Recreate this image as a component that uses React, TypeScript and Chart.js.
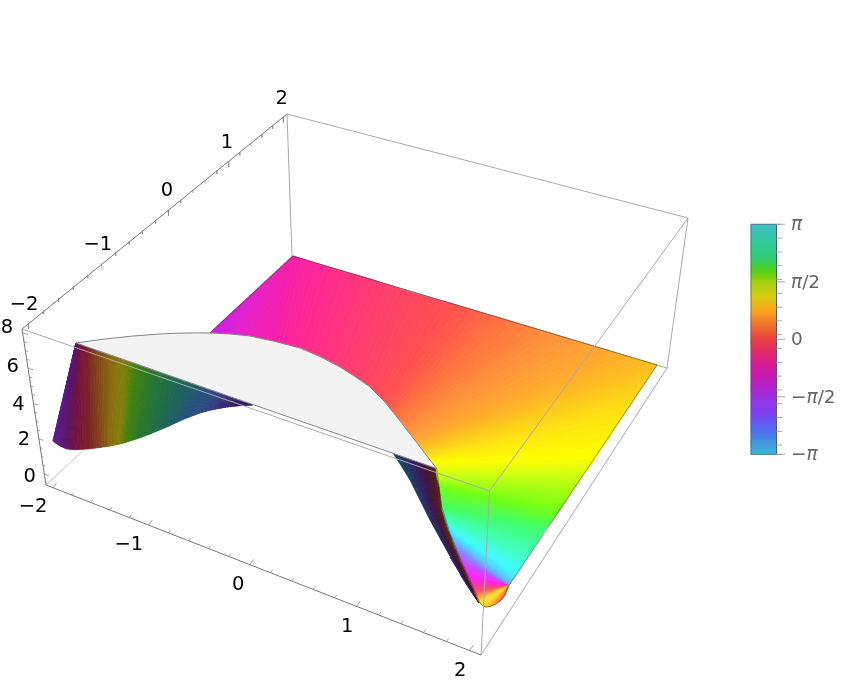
import React, { useEffect, useRef } from "react";
import { Chart, registerables } from "chart.js";

Chart.register(...registerables);

// Axis tick values and labels
const planeTicks = [-2,-1.8,-1.6,-1.4,-1.2,-1,-0.8,-0.6,-0.4,-0.2,0,0.2,0.4,0.6,0.8,1,1.2,1.4,1.6,1.8,2];
const planeMajor = [-2,-1,0,1,2];
const heightTicks = [0,0.5,1,1.5,2,2.5,3,3.5,4,4.5,5,5.5,6,6.5,7,7.5,8];
const heightMajor = [0,2,4,6,8];
const heightNudge = [2.5,1.5,1,-1,-5];

// Box corners
const boxA = [46,485], boxB = [481,655], boxG = [292,256], boxH = [667,368];
const boxC = [22,329], boxD = [489.5,491], boxE = [688,218], boxF = [287,114];

// Lit sheet: level lines (upper end, lower end, colour)
const sheetUX = [210,240,265,293,325,370,410,453,500,550,610,657,635,596,590,581,558,545,532,516.6,511,508.5,508.5,508.5,508.5,508.5,508.5,508.5,508.5,508.5,508.5,508.5,508.5];
const sheetUY = [333,305,282,256,266,279,292,304,318,333,351,365,398,457,466,478,513,530,551,574,582,586,586,586,586,586,586,586,586,586,586,586,586];
const sheetLX = [210,230,250,275,300,340,370,385,397,407,417,421,426,433,436,437,440,442.5,445,449,452,455,461,465,469,475,479.5,483,486,490,495,500,505];
const sheetLY = [333,334.5,336,342,348,367,387,404,417,430,443,448,455,463,468,476,488,510,518,530,537,546,561,569,578,592,602,606,607,606.5,604.5,601,595];
const sheetC = ["#c81fe8","#dc20d8","#ea20c0","#f520a8","#ff2890","#ff3a78","#ff4560","#ff5050","#ff7040","#ff8f3c","#ffa830","#ffbe20","#ffd818","#ffff00","#eaff08","#c8ff10","#70ff18","#40ff70","#40ffb0","#40f8ff","#50d0ff","#8090ff","#c050ff","#e838ff","#ff20f0","#ff5060","#ffe030","#ffe030","#ffcc30","#ffb030","#ff9a40","#ff8040","#ff6a50"];

// Dark left wing
const wingUX = [76,76,76,76,76,76,76,76,77,80,87,97,112,125,137,151,165,190,203,215,228,240,247,253];
const wingUY = [343,343,343,343,343,343,343,343,343.3,344.5,347,351,356,360,364,369,374,383,387.5,391.5,396,400.5,403,405];
const wingLX = [76,73,70,67,63,58,53,60,67,75,87,100,110,120,127,138,150,167,183,200,213,227,240,253];
const wingLY = [343,363,390,406,422,432,441,446,449,449.5,449,447.5,446,444,442,438.5,434,427,419.5,413,409.5,407,405.5,405];
const wingC = ["#8a1a40","#8a1a40","#7d1060","#741270","#681480","#601888","#5c1a8c","#5c1678","#5c1460","#701040","#7e1c2a","#7e4418","#8a6c10","#7f8008","#3f8010","#2a7828","#207040","#1f6060","#234f78","#2a4a80","#32357a","#3a1f6a","#321860","#2a1050"];

// Dark strip beside the dip
const stripLX = [393,402,410,420,430,441,450,460,470,479];
const stripLY = [453,467,480,500,520,540,557,574,590,603];
const stripRX = [436.7,437.5,438.5,441,446,452,459.5,467,474.5,480];
const stripRY = [468.5,474,480,500,520,540,557,574,590,603];
const stripStops = [0,0.3,0.55,0.8,1];
const stripTop = ["#1a4a55","#2a2a68","#3a1550","#4a1030","#5a1f10"];
const stripBottom = ["#2a1f60","#3a1050","#4a1028","#4f2a10","#5a4510"];

// White clipped cap
const capX = [76,90,105,119,133,147,160,174,187,199,210,230,250,275,300,320,340,355,370,384,397,407,417,426.5,436.7];
const capY = [343,341,339,337.5,336,335,334,333.3,333,332.9,333,334,336,341.5,348,356.5,367,376.5,387,401,417,430,443,455.5,468.5];

// Edge of the lit sheet
const rimX = [436.7,441.7,450,460,470,480,483,486,490,495,500,505,508.5,657,293,210];
const rimY = [468.5,507,533,558,580,603,606,607,606.5,604.5,601,595,586,365,256,333];

// Colour bar
const barValues = [3.1416,2.7,2.2,1.85,1.5708,1.15,0.75,0.33,0,-0.5,-1,-1.5708,-2.05,-2.5,-3.1416];
const barColors = ["#3cbcc4","#33c8a0","#30cc70","#55d010","#a0d010","#dccc10","#faa020","#f06a30","#e84040","#dc2080","#c818b0","#9a30e0","#7c40f0","#5070f0","#38b8d0"];
const barTicks = [3.1416,2.7646,2.3876,2.0106,1.6336,1.2566,0.8796,0.5027,0.1257,-0.2513,-0.6283,-1.0053,-1.3823,-1.7593,-2.1363,-2.5133,-2.8903,-3.1416];
const barMajor = [
  { v: Math.PI, t: "π" },
  { v: Math.PI / 2, t: "π/2" },
  { v: 0, t: "0" },
  { v: -Math.PI / 2, t: "−π/2" },
  { v: -Math.PI, t: "−π" },
];

const FONT = '"DejaVu Sans"';
const FONT_SIZE = 19.5;
const BAR_FONT = 18.5;
const BANDS = 7;
const COLUMNS = 14;

type P = { x: number; y: number };
const pts = (xs: number[], ys: number[]): P[] => xs.map((x, i) => ({ x, y: ys[i] }));
const along = (a: number[], b: number[], u: number, k: number) => {
  const s = u / (u + k * (1 - u));
  return [a[0] + (b[0] - a[0]) * s, a[1] + (b[1] - a[1]) * s];
};
// perspective placement of the tick values on the box's edges
const frontAt = (v: number) => along([53,488], [470,650], (v + 2) / 4, 1.118);
const topAt = (v: number) => along([28,323], [283,117], (v + 2) / 4, 0.821);
const zAt = (v: number) => along([43.7,474], [23,333], v / 8, 1.0);
const barY = (v: number) => 339.3 - (v / Math.PI) * 115;

function ticks(vals: number[], isMajor: (v: number) => boolean, at: (v: number) => number[], d: number[]) {
  const out: P[] = [];
  vals.forEach((v) => {
    const [x, y] = at(v);
    const m = isMajor(v) ? 1 : 0.55;
    out.push({ x, y }, { x: x + d[0] * m, y: y + d[1] * m }, { x: NaN, y: NaN });
  });
  return out;
}

function gradientFill(x0: number, y0: number, x1: number, y1: number, stops: number[], cols: string[]) {
  return (c: any) => {
    const { x, y } = c.chart.scales;
    if (!x || !y) return cols[0];
    const p = [x.getPixelForValue(x0), y.getPixelForValue(y0), x.getPixelForValue(x1), y.getPixelForValue(y1)];
    if (!p.every(Number.isFinite)) return cols[0];
    const g = c.chart.ctx.createLinearGradient(p[0], p[1], p[2], p[3]);
    stops.forEach((s, i) => g.addColorStop(Math.min(1, Math.max(0, s)), cols[i]));
    return g;
  };
}

function line(data: P[], color: string, width: number) {
  return { data, borderColor: color, borderWidth: width, backgroundColor: "transparent", fill: false, showLine: true, pointRadius: 0, tension: 0 };
}
function poly(data: P[], bg: any) {
  return { data: [...data, data[0]], borderColor: bg, borderWidth: 0.8, backgroundColor: bg, fill: "shape", showLine: true, pointRadius: 0, tension: 0 };
}

const rgb = (h: string) => [1, 3, 5].map((i) => parseInt(h.slice(i, i + 2), 16));
const hex = (c: number[]) => "#" + c.map((v) => Math.round(v).toString(16).padStart(2, "0")).join("");
function blend(a: string, b: string, t: number) {
  const A = rgb(a), B = rgb(b);
  return hex(A.map((v, i) => v + (B[i] - v) * t));
}
const mix = (a: number, b: number, t: number) => a + (b - a) * t;

// Shade the space between neighbouring level lines in narrow flat bands
function levelStrips(ux: number[], uy: number[], lx: number[], ly: number[], cols: string[]) {
  const out: any[] = [];
  for (let i = 0; i + 1 < ux.length; i++) {
    for (let j = 0; j < BANDS; j++) {
      const a = j / BANDS, b = (j + 1) / BANDS;
      out.push(poly([
        { x: mix(ux[i], ux[i + 1], a), y: mix(uy[i], uy[i + 1], a) },
        { x: mix(ux[i], ux[i + 1], b), y: mix(uy[i], uy[i + 1], b) },
        { x: mix(lx[i], lx[i + 1], b), y: mix(ly[i], ly[i + 1], b) },
        { x: mix(lx[i], lx[i + 1], a), y: mix(ly[i], ly[i + 1], a) },
      ], blend(cols[i], cols[i + 1], (a + b) / 2)));
    }
  }
  return out;
}

function stripColor(t: number, row: number) {
  let k = 0;
  while (k < stripStops.length - 2 && t > stripStops[k + 1]) k++;
  const f = (t - stripStops[k]) / (stripStops[k + 1] - stripStops[k]);
  return blend(blend(stripTop[k], stripTop[k + 1], f), blend(stripBottom[k], stripBottom[k + 1], f), row);
}

function rowStrips() {
  const out: any[] = [];
  const rows = stripLX.length - 1;
  for (let i = 0; i < rows; i++) {
    for (let j = 0; j < COLUMNS; j++) {
      const a = j / COLUMNS, b = (j + 1) / COLUMNS;
      out.push(poly([
        { x: mix(stripLX[i], stripRX[i], a), y: mix(stripLY[i], stripRY[i], a) },
        { x: mix(stripLX[i], stripRX[i], b), y: mix(stripLY[i], stripRY[i], b) },
        { x: mix(stripLX[i + 1], stripRX[i + 1], b), y: mix(stripLY[i + 1], stripRY[i + 1], b) },
        { x: mix(stripLX[i + 1], stripRX[i + 1], a), y: mix(stripLY[i + 1], stripRY[i + 1], a) },
      ], stripColor((a + b) / 2, (i + 0.5) / rows)));
    }
  }
  return out;
}

const seg = (a: number[], b: number[]): P[] => [{ x: a[0], y: a[1] }, { x: b[0], y: b[1] }];

const labelsPlugin = {
  id: "boxLabels",
  afterDraw(chart: any) {
    const { ctx, scales } = chart;
    const X = (v: number) => scales.x.getPixelForValue(v);
    const Y = (v: number) => scales.y.getPixelForValue(v);
    const put = (t: string, x: number, y: number, align: CanvasTextAlign) => {
      ctx.textAlign = align;
      ctx.fillText(t, X(x), Y(y));
    };
    const name = (v: number) => (v < 0 ? "−" + -v : String(v));
    ctx.save();
    ctx.fillStyle = "#000";
    ctx.font = `${FONT_SIZE}px ${FONT}`;
    ctx.textBaseline = "middle";
    planeMajor.forEach((v, i) => {
      const [x, y] = frontAt(v);
      put(name(v), x - (i < 3 ? 5.5 : 3.5), y + 19 + i * 0.5, "right");
    });
    planeMajor.forEach((v, i) => {
      const [x, y] = topAt(v);
      put(name(v), x + (i < 2 ? 10.5 : 5), y - 18.5, "right");
    });
    heightMajor.forEach((v, i) => {
      const [x, y] = zAt(v);
      put(name(v), x - 14 - v * 0.25, y + heightNudge[i], "center");
    });
    ctx.fillStyle = "#666";
    barMajor.forEach(({ v, t }) => {
      const y = barY(v) + 1;
      ctx.textAlign = "left";
      let px = X(791);
      for (const part of t.match(/π|[^π]+/g) as string[]) {
        ctx.font = part === "π" ? `italic ${BAR_FONT}px ${FONT}` : `${BAR_FONT}px ${FONT}`;
        ctx.fillText(part, px, Y(y));
        px += ctx.measureText(part).width;
      }
    });
    ctx.restore();
  },
};

export default function App() {
  const ref = useRef<HTMLCanvasElement>(null);
  useEffect(() => {
    const BACK = "#a9a9a9";
    const AXIS = "#777777";
    const TICK = "#8c8c8c";
    const RIM = "rgba(40,30,30,0.65)";
    const layers: any[] = [
      // box edges behind the surface
      line(seg(boxA, boxG), "#c4c4c4", 1),
      line(seg(boxF, boxG), BACK, 1),
      line(seg(boxF, boxE), BACK, 1),
      line(seg(boxE, boxH), BACK, 1),
      line(seg(boxH, boxB), BACK, 1),
      line(seg(boxG, boxH), BACK, 1),
      // surface
      ...levelStrips(wingUX, wingUY, wingLX, wingLY, wingC),
      ...rowStrips(),
      ...levelStrips(sheetUX, sheetUY, sheetLX, sheetLY, sheetC),
      poly(pts(capX, capY), "#f3f3f3"),
      line(pts(capX, capY), RIM, 0.8),
      line([{ x: capX[0], y: capY[0] }, { x: capX[capX.length - 1], y: capY[capY.length - 1] }], RIM, 0.8),
      line(pts(rimX, rimY), RIM, 0.7),
      // box edges in front
      line(seg(boxC, boxD), BACK, 1),
      line(seg(boxD, boxE), BACK, 1),
      line(seg(boxD, boxB), BACK, 1),
      line(seg(boxA, boxB), AXIS, 1),
      line(seg(boxC, boxF), AXIS, 1),
      line(seg(boxC, boxA), AXIS, 1),
      line(ticks(planeTicks, (v) => planeMajor.includes(v), frontAt, [3.5, -5]), TICK, 0.8),
      line(ticks(planeTicks, (v) => planeMajor.includes(v), topAt, [0.5, 6]), TICK, 0.8),
      line(ticks(heightTicks, (v) => heightMajor.includes(v), zAt, [5, 1.5]), TICK, 0.8),
      // colour bar
      poly(
        [{ x: 751, y: barY(Math.PI) }, { x: 776.5, y: barY(Math.PI) }, { x: 776.5, y: barY(-Math.PI) }, { x: 751, y: barY(-Math.PI) }],
        gradientFill(760, barY(Math.PI), 760, barY(-Math.PI),
          barValues.map((v) => (Math.PI - v) / (2 * Math.PI)), barColors)
      ),
      line([{ x: 751, y: barY(Math.PI) }, { x: 776.5, y: barY(Math.PI) }, { x: 776.5, y: barY(-Math.PI) }, { x: 751, y: barY(-Math.PI) }, { x: 751, y: barY(Math.PI) }], "rgba(70,90,100,0.65)", 1),
      line(ticks(barTicks, () => false, (v) => [776.5, barY(v)], [10, 0]), "#aaaaaa", 1),
      line(ticks(barMajor.map((m) => m.v), () => true, (v) => [776.5, barY(v)], [8.5, 0]), "#aaaaaa", 1),
    ];
    const total = layers.length;
    layers.forEach((d, i) => (d.order = total - i));

    const chart = new Chart(ref.current as HTMLCanvasElement, {
      type: "scatter",
      data: { datasets: layers },
      options: {
        animation: false,
        responsive: false,
        maintainAspectRatio: false,
        layout: { padding: 0 },
        events: [],
        plugins: { legend: { display: false }, tooltip: { enabled: false }, title: { display: false } },
        scales: {
          x: { type: "linear", min: 0, max: 848, display: false },
          y: { type: "linear", min: 0, max: 700, reverse: true, display: false },
        },
      },
      plugins: [labelsPlugin],
    } as any);
    return () => chart.destroy();
  }, []);
  return (
    <div style={{ position: "absolute", left: 0, top: 0, width: 848, height: 700, background: "#fff" }}>
      <canvas ref={ref} width={848} height={700} style={{ display: "block" }} />
    </div>
  );
}
